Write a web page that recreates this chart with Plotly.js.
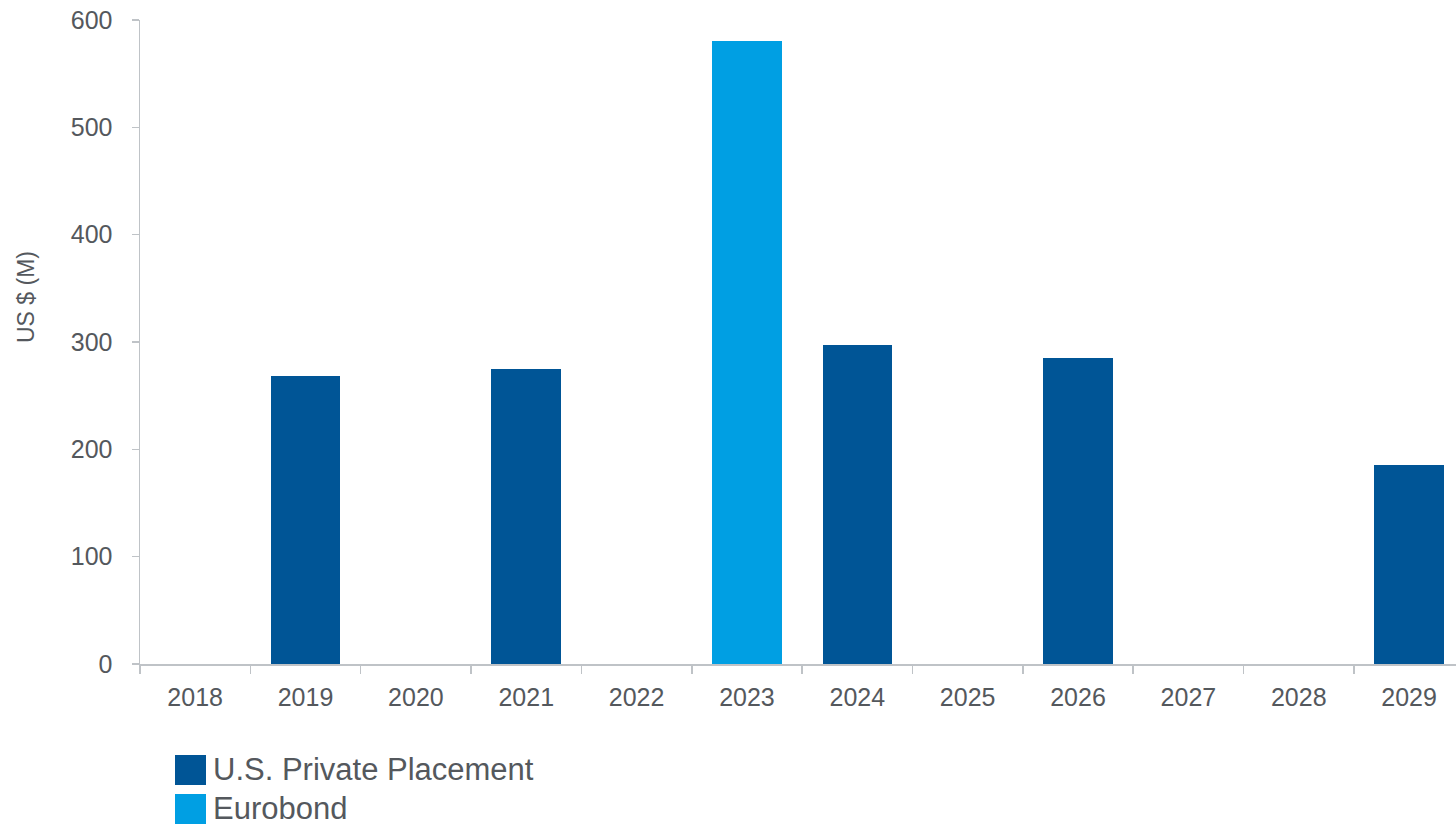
<!DOCTYPE html>
<html>
<head>
<meta charset="utf-8">
<script src="https://cdn.plot.ly/plotly-3.0.1.min.js"></script>
<style>html,body{margin:0;padding:0;overflow:hidden;background:#fff}</style>
</head>
<body>
<div id="chart" style="width:1456px;height:825px"></div>
<script>
const years = ["2018","2019","2020","2021","2022","2023","2024","2025","2026","2027","2028","2029"];
const usPrivatePlacement = [0, 268, 0, 275, 0, 0, 297, 0, 285, 0, 0, 185];
const eurobond = [0, 0, 0, 0, 0, 580, 0, 0, 0, 0, 0, 0];
const seriesNames = ["U.S. Private Placement", "Eurobond"];
const seriesColors = ["#005596", "#009FE3"];
const yTicks = [0, 100, 200, 300, 400, 500, 600];
const yTitle = "US $ (M)";

const textColor = "#54585d";
const axisColor = "#bfc3c7";

const traces = [
  {type: "bar", x: years, y: usPrivatePlacement, name: seriesNames[0], marker: {color: seriesColors[0]}, showlegend: false},
  {type: "bar", x: years, y: eurobond, name: seriesNames[1], marker: {color: seriesColors[1]}, showlegend: false}
];

const annotations = [
  {text: yTitle, xref: "paper", yref: "paper", x: (26-140)/1316, y: (664-297)/644, xanchor: "center", yanchor: "middle",
   textangle: -90, showarrow: false, font: {family: "Liberation Sans, Arial, sans-serif", size: 23, color: textColor}}
];
const shapes = [];
seriesNames.forEach((n, i) => {
  const top = 755 + i * 39;
  shapes.push({type: "rect", xref: "paper", yref: "paper",
    x0: (175-140)/1316, x1: (206-140)/1316, y0: (664-top-30)/644, y1: (664-top)/644,
    fillcolor: seriesColors[i], line: {width: 0}});
  annotations.push({text: n, xref: "paper", yref: "paper", x: (212-140)/1316, y: (664-top-14)/644,
    xanchor: "left", yanchor: "middle", showarrow: false, borderpad: 0,
    font: {family: "Liberation Sans, Arial, sans-serif", size: 31, color: textColor}});
});

const layout = {
  width: 1456, height: 825,
  margin: {l: 140, r: 0, t: 20, b: 161, pad: 0},
  paper_bgcolor: "#fff", plot_bgcolor: "#fff",
  barmode: "stack", bargap: 0.37,
  font: {family: "Liberation Sans, Arial, sans-serif", color: textColor, size: 25},
  xaxis: {type: "category", range: [-0.5, 11.425], showgrid: false, zeroline: false,
    showline: true, linecolor: axisColor, linewidth: 1.5,
    ticks: "outside", tickson: "boundaries", ticklen: 8, tickcolor: axisColor, tickwidth: 1.5,
    tickfont: {size: 25, color: textColor}, ticklabelstandoff: 10},
  yaxis: {range: [0, 600], tickvals: yTicks, showgrid: false, zeroline: false,
    showline: true, linecolor: axisColor, linewidth: 1.5,
    ticks: "outside", ticklen: 7, tickcolor: axisColor, tickwidth: 1.5,
    tickfont: {size: 25, color: textColor}, ticklabelstandoff: 14},
  showlegend: false,
  annotations: annotations,
  shapes: shapes
};

Plotly.newPlot("chart", traces, layout, {displayModeBar: false, staticPlot: true});
</script>
</body>
</html>
